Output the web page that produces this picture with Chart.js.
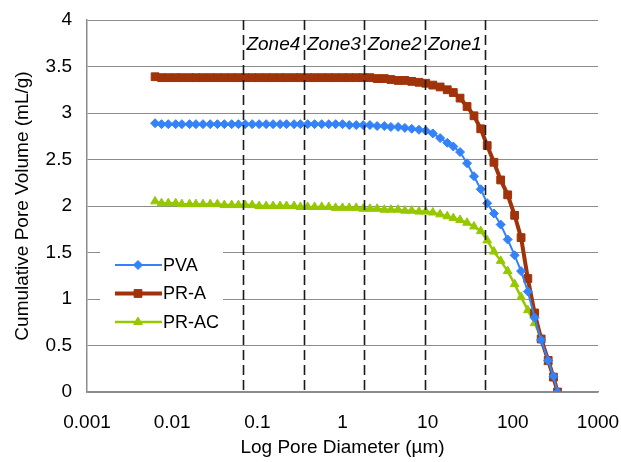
<!DOCTYPE html>
<html>
<head>
<meta charset="utf-8">
<script src="https://cdn.jsdelivr.net/npm/chart.js@4.4.1/dist/chart.umd.min.js"></script>
<style>
  body { margin: 0; background: #fff; }
</style>
</head>
<body>
<canvas id="pores" width="621" height="462"></canvas>
<script>
// pore diameter (um), shared by the three curves
const diameter = [0.0063, 0.0075, 0.009, 0.011, 0.013, 0.016, 0.019, 0.023, 0.028, 0.034,
  0.041, 0.05, 0.06, 0.072, 0.087, 0.105, 0.127, 0.153, 0.185, 0.22,
  0.27, 0.32, 0.39, 0.47, 0.57, 0.69, 0.83, 1.0, 1.2, 1.45,
  1.75, 2.1, 2.55, 3.1, 3.7, 4.5, 5.4, 6.5, 7.9, 9.5,
  11.5, 14, 17, 20, 24, 29, 35, 42, 50, 60,
  72, 87, 105, 125, 150, 180, 215, 260, 300, 335];

// cumulative pore volume (mL/g)
const pva = [2.89, 2.88, 2.88, 2.88, 2.88, 2.88, 2.88, 2.88, 2.88, 2.88,
  2.88, 2.88, 2.88, 2.88, 2.88, 2.88, 2.88, 2.88, 2.88, 2.88,
  2.88, 2.88, 2.88, 2.88, 2.88, 2.88, 2.88, 2.88, 2.87, 2.87,
  2.87, 2.87, 2.86, 2.86, 2.85, 2.85, 2.84, 2.83, 2.82, 2.81,
  2.78, 2.73, 2.68, 2.64, 2.58, 2.46, 2.32, 2.18, 2.03, 1.92,
  1.80, 1.64, 1.47, 1.30, 1.08, 0.80, 0.56, 0.34, 0.17, 0];

const pra = [3.39, 3.38, 3.38, 3.38, 3.38, 3.38, 3.38, 3.38, 3.38, 3.38,
  3.38, 3.38, 3.38, 3.38, 3.38, 3.38, 3.38, 3.38, 3.38, 3.38,
  3.38, 3.38, 3.38, 3.38, 3.38, 3.38, 3.38, 3.38, 3.38, 3.38,
  3.38, 3.38, 3.37, 3.37, 3.36, 3.35, 3.35, 3.34, 3.33, 3.32,
  3.30, 3.28, 3.25, 3.22, 3.16, 3.07, 2.97, 2.83, 2.65, 2.47,
  2.28, 2.12, 1.90, 1.66, 1.22, 0.85, 0.57, 0.34, 0.16, 0];

const prac = [2.05, 2.03, 2.03, 2.03, 2.02, 2.02, 2.02, 2.02, 2.02, 2.02,
  2.01, 2.01, 2.01, 2.01, 2.01, 2.00, 2.00, 2.00, 2.00, 2.00,
  2.00, 1.99, 1.99, 1.99, 1.99, 1.99, 1.98, 1.98, 1.98, 1.98,
  1.97, 1.97, 1.97, 1.96, 1.96, 1.96, 1.95, 1.95, 1.94, 1.94,
  1.93, 1.91, 1.89, 1.87, 1.85, 1.82, 1.78, 1.73, 1.63, 1.51,
  1.41, 1.30, 1.16, 1.02, 0.88, 0.74, 0.58, 0.32, 0.15, 0];

const seriesNames = ['PVA', 'PR-A', 'PR-AC'];
const xTicks = [0.001, 0.01, 0.1, 1, 10, 100, 1000];
const zoneEdges = [0.068, 0.35, 1.8, 9.3, 47];
const zoneNames = ['Zone4', 'Zone3', 'Zone2', 'Zone1'];

const FONT = '"Liberation Sans", Arial, sans-serif';

const toPoints = (ys) => diameter.map((d, i) => ({ x: d, y: ys[i] }));

// dashed zone boundaries + their labels
const zonePlugin = {
  id: 'zones',
  afterDatasetsDraw(chart) {
    const { ctx, chartArea: { top, bottom }, scales: { x } } = chart;
    ctx.save();
    ctx.strokeStyle = '#1a1a1a';
    ctx.lineWidth = 1.6;
    ctx.setLineDash([10, 5]);
    zoneEdges.forEach((v) => {
      const px = Math.round(x.getPixelForValue(v)) + 0.5;
      ctx.beginPath();
      ctx.moveTo(px, top);
      ctx.lineTo(px, bottom);
      ctx.stroke();
    });
    ctx.setLineDash([]);
    ctx.font = 'italic 19px ' + FONT;
    ctx.fillStyle = '#000';
    ctx.textAlign = 'center';
    ctx.textBaseline = 'middle';
    zoneNames.forEach((t, i) => {
      const cx = (x.getPixelForValue(zoneEdges[i]) + x.getPixelForValue(zoneEdges[i + 1])) / 2;
      ctx.fillText(t, cx, top + 25);
    });
    ctx.restore();
  }
};

// legend sitting inside the plot, on a white box
const legendPlugin = {
  id: 'innerLegend',
  afterDraw(chart) {
    const { ctx, chartArea: { left } } = chart;
    ctx.save();
    ctx.fillStyle = '#fff';
    ctx.fillRect(left + 13, 238, 123, 98);
    chart.data.datasets.forEach((ds, i) => {
      const y = 265 + i * 28.5;
      ctx.strokeStyle = ds.borderColor;
      ctx.lineWidth = ds.borderWidth;
      ctx.beginPath();
      ctx.moveTo(left + 28, y);
      ctx.lineTo(left + 75, y);
      ctx.stroke();
      ctx.fillStyle = ds.backgroundColor;
      ctx.lineWidth = 1;
      Chart.helpers.drawPoint(ctx, {
        pointStyle: ds.pointStyle, radius: ds.pointRadius, borderWidth: 1, rotation: 0
      }, left + 51, y);
      ctx.fillStyle = '#000';
      ctx.font = '18px ' + FONT;
      ctx.textAlign = 'left';
      ctx.textBaseline = 'middle';
      ctx.fillText(ds.label, left + 76, y + 1);
    });
    ctx.restore();
  }
};

new Chart(document.getElementById('pores'), {
  type: 'line',
  data: {
    datasets: [
      {
        label: seriesNames[0],
        data: toPoints(pva),
        borderColor: '#3382f8',
        backgroundColor: '#3382f8',
        borderWidth: 2,
        pointStyle: 'rectRot',
        pointRadius: 4.5,
        pointBorderWidth: 1
      },
      {
        label: seriesNames[1],
        data: toPoints(pra),
        borderColor: '#a0330a',
        backgroundColor: '#a0330a',
        borderWidth: 4,
        pointStyle: 'rect',
        pointRadius: 5.5,
        pointBorderWidth: 1
      },
      {
        label: seriesNames[2],
        data: toPoints(prac),
        borderColor: '#96c800',
        backgroundColor: '#96c800',
        borderWidth: 2.5,
        pointStyle: 'triangle',
        pointRadius: 5,
        pointBorderWidth: 1
      }
    ]
  },
  options: {
    responsive: false,
    animation: false,
    devicePixelRatio: 1,
    layout: { padding: { top: 20, right: 23, left: 0, bottom: 0 } },
    plugins: {
      legend: { display: false },
      tooltip: { enabled: false }
    },
    scales: {
      x: {
        type: 'logarithmic',
        min: 0.001,
        max: 1000,
        afterBuildTicks: (scale) => { scale.ticks = xTicks.map((v) => ({ value: v })); },
        afterFit: (scale) => {
          scale.height = 70;
          scale.paddingLeft = 0;
          scale.paddingRight = 0;
        },
        grid: { display: false, drawTicks: false },
        border: { display: true, color: '#8c8c8c', width: 1.5 },
        ticks: {
          autoSkip: false,
          maxRotation: 0,
          padding: 19,
          color: '#000',
          font: { family: FONT, size: 19 },
          callback: (v) => String(v)
        },
        title: {
          display: true,
          text: 'Log Pore Diameter (µm)',
          color: '#000',
          font: { family: FONT, size: 19 },
          padding: { top: 0, bottom: 3 }
        }
      },
      y: {
        min: 0,
        max: 4,
        afterFit: (scale) => {
          scale.width = 87;
          scale.paddingTop = 0;
          scale.paddingBottom = 0;
        },
        grid: { color: '#8c8c8c', lineWidth: 1, drawTicks: false },
        border: { display: true, color: '#8c8c8c', width: 1.5 },
        ticks: {
          stepSize: 0.5,
          padding: 15,
          color: '#000',
          font: { family: FONT, size: 19 },
          callback: (v) => String(v)
        },
        title: {
          display: true,
          text: 'Cumulative Pore Volume (mL/g)',
          color: '#000',
          font: { family: FONT, size: 19 },
          padding: { top: 11, bottom: 0 }
        }
      }
    }
  },
  plugins: [zonePlugin, legendPlugin]
});
</script>
</body>
</html>
